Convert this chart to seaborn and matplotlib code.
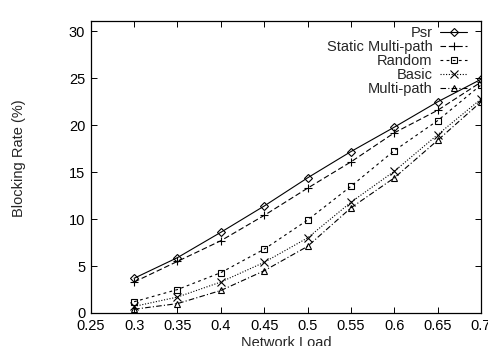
import matplotlib
matplotlib.use("Agg")
import matplotlib.pyplot as plt
import seaborn as sns
import pandas as pd

loads = [0.3, 0.35, 0.4, 0.45, 0.5, 0.55, 0.6, 0.65, 0.7]
psr = [3.7, 5.9, 8.6, 11.4, 14.4, 17.2, 19.8, 22.5, 24.9]
static_mp = [3.3, 5.5, 7.7, 10.4, 13.3, 16.1, 19.2, 21.6, 24.6]
random_ = [1.2, 2.5, 4.3, 6.8, 9.9, 13.5, 17.3, 20.5, 24.3]
basic = [0.7, 1.7, 3.3, 5.4, 8.0, 11.8, 15.1, 19.0, 22.8]
multipath = [0.4, 1.0, 2.4, 4.5, 7.1, 11.2, 14.4, 18.4, 22.5]

series_names = ["Psr", "Static Multi-path", "Random", "Basic", "Multi-path"]
series_vals = [psr, static_mp, random_, basic, multipath]
xticks = [0.25, 0.3, 0.35, 0.4, 0.45, 0.5, 0.55, 0.6, 0.65, 0.7]
xtick_labels = ["0.25", "0.3", "0.35", "0.4", "0.45", "0.5", "0.55", "0.6", "0.65", "0.7"]
yticks = [0, 5, 10, 15, 20, 25, 30]

sns.set_theme(style="ticks")
plt.rcParams["font.family"] = ["Liberation Sans", "DejaVu Sans"]
plt.rcParams["font.size"] = 10.5

markers = ["D", "+", "s", "x", "^"]
msizes = [4.0, 6, 5, 5.5, 5]
dashes = ["-", (0, (5, 2.5)), (0, (2.5, 3)), (0, (1, 1.5)), (0, (5, 2, 1, 2))]

fig = plt.figure(figsize=(4.88, 3.46), dpi=100)
ax = fig.add_axes([0.186, 0.0954, 0.7997, 0.8436])

for name, vals, m, ms, ls in zip(series_names, series_vals, markers, msizes, dashes):
    df = pd.DataFrame({"load": loads, "rate": vals})
    sns.lineplot(data=df, x="load", y="rate", ax=ax, color="black", marker=m,
                 markersize=ms, markerfacecolor="none", markeredgecolor="black",
                 markeredgewidth=0.8, linewidth=0.8, linestyle=ls, label=name)

ax.set_xlim(0.25, 0.7)
ax.set_ylim(0, 31.1)
ax.set_xticks(xticks)
ax.set_xticklabels(xtick_labels)
ax.set_yticks(yticks)
ax.tick_params(direction="in", length=4.5, width=0.7, top=True, right=True,
               labelsize=10.5, colors="black", pad=4)
for s in ax.spines.values():
    s.set_linewidth(0.9)
    s.set_color("black")

ax.set_xlabel("Network Load", fontsize=10.5)
ax.set_ylabel("Blocking Rate (%)", fontsize=10.5)
ax.xaxis.set_label_coords(0.5, -0.079)
ax.yaxis.set_label_coords(-0.184, 0.531)
ax.yaxis.label.set_va("center")

leg = ax.legend(loc="upper right", bbox_to_anchor=(0.965, 0.982), frameon=False,
                markerfirst=False, borderpad=0, borderaxespad=0, labelspacing=0.0,
                handlelength=1.85, handletextpad=0.55, numpoints=1, fontsize=10.5)

fig.savefig("out.png", dpi=100)
